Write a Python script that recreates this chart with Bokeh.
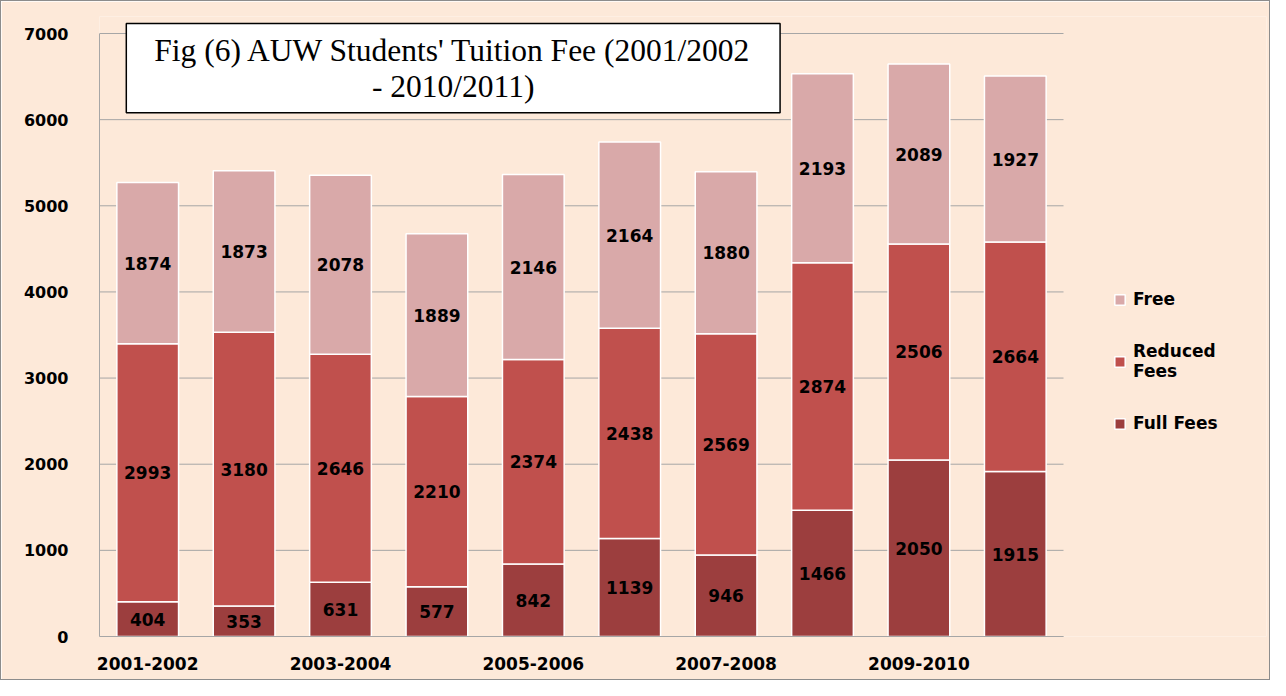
from bokeh.plotting import figure
from bokeh.models import ColumnDataSource, FixedTicker, Label, Legend, LegendItem
from bokeh.core.properties import value
from bokeh.embed import file_html
from bokeh.resources import INLINE

# ---- data ----
categories = ["2001-2002", "2002-2003", "2003-2004", "2004-2005", "2005-2006",
              "2006-2007", "2007-2008", "2008-2009", "2009-2010", "2010-2011"]
full_fees = [404, 353, 631, 577, 842, 1139, 946, 1466, 2050, 1915]
reduced_fees = [2993, 3180, 2646, 2210, 2374, 2438, 2569, 2874, 2506, 2664]
free = [1874, 1873, 2078, 1889, 2146, 2164, 1880, 2193, 2089, 1927]
y_ticks = [0, 1000, 2000, 3000, 4000, 5000, 6000, 7000]
title_text = "Fig (6) AUW Students' Tuition Fee (2001/2002\n- 2010/2011)"

C_FULL = "#9C3E3E"
C_RED = "#C0504D"
C_FREE = "#D9A9A9"
BG = "#FDE9D9"
GRID = "#A6A6A6"

n = len(categories)
xs = list(range(n))
src = ColumnDataSource(dict(x=xs, full=full_fees, reduced=reduced_fees, free=free))

# frame covers the plot area plus the legend area on the right (annotations are clipped to the frame)
W, H = 1270, 680
LEFT, RIGHT, TOP, BOTTOM = 98, 5, 15, 45
PX_PER_CAT = 96.4
frame_w = W - LEFT - RIGHT
x_end = -0.5 + frame_w / PX_PER_CAT
frame_h = H - TOP - BOTTOM
px_per_unit = 603 / 7000.0
y_end = frame_h / px_per_unit

p = figure(width=W, height=H, x_range=(-0.5, x_end), y_range=(0, y_end),
           output_backend="svg", toolbar_location=None,
           min_border_left=LEFT, min_border_right=RIGHT, min_border_top=TOP, min_border_bottom=BOTTOM)
p.background_fill_color = BG
p.border_fill_color = BG
p.outline_line_color = None
p.styles = {"border": "1px solid #8C8C8C"}

# horizontal gridlines limited to the category span
p.segment(x0=[-0.5] * len(y_ticks), x1=[n - 0.5] * len(y_ticks), y0=y_ticks, y1=y_ticks,
          line_color=GRID, line_width=1)

rs = p.vbar_stack(["full", "reduced", "free"], x="x", width=0.64, source=src,
                  color=[C_FULL, C_RED, C_FREE], line_color="white", line_width=1.5)

# value labels at the middle of each segment
lx, ly, lt = [], [], []
for i in xs:
    a, b, c = full_fees[i], reduced_fees[i], free[i]
    for base, v in ((0, a), (a, b), (a + b, c)):
        lx.append(i)
        ly.append(base + v / 2)
        lt.append(str(v))
p.text(x=lx, y=ly, text=lt, text_font=value("DejaVu Sans"), text_font_style="bold",
       text_font_size="17px", text_align="center", text_baseline="middle", text_color="black")

# axes
p.xaxis.ticker = FixedTicker(ticks=xs[::2])
p.xaxis.major_label_overrides = {i: categories[i] for i in xs[::2]}
p.xaxis.bounds = (-0.5, n - 0.5)
p.yaxis.ticker = FixedTicker(ticks=y_ticks)
p.yaxis.bounds = (y_ticks[0], y_ticks[-1])
for ax in (p.xaxis[0], p.yaxis[0]):
    ax.axis_line_color = GRID
    ax.major_tick_line_color = None
    ax.minor_tick_line_color = None
    ax.major_label_text_font = "DejaVu Sans"
    ax.major_label_text_font_style = "bold"
    ax.major_label_text_color = "black"
p.xaxis.major_label_text_font_size = "17px"
p.yaxis.major_label_text_font_size = "16px"
p.xaxis.major_label_standoff = 14
p.yaxis.major_label_standoff = 25
p.xgrid.grid_line_color = None
p.ygrid.grid_line_color = None

# legend
legend = Legend(items=[LegendItem(label="Free", renderers=[rs[2]]),
                       LegendItem(label="Reduced\nFees", renderers=[rs[1]]),
                       LegendItem(label="Full Fees", renderers=[rs[0]])],
                location=(1014, 203), orientation="vertical",
                glyph_width=13, glyph_height=13, label_standoff=7, spacing=32,
                padding=0, margin=0, border_line_color=None, background_fill_alpha=0,
                label_text_font="DejaVu Sans", label_text_font_style="bold",
                label_text_font_size="17px", label_text_color="black")
p.add_layout(legend)

# title box
title = Label(x=3.169, y=6598, text=title_text, text_font="Liberation Serif",
              text_font_size="31.5px", text_align="center", text_baseline="middle",
              text_line_height=1.03, text_color="black",
              background_fill_color="white", border_line_color="black", border_line_width=1.5,
              padding=(28, 9))
p.add_layout(title)

open("out.html", "w").write(file_html(p, INLINE))
